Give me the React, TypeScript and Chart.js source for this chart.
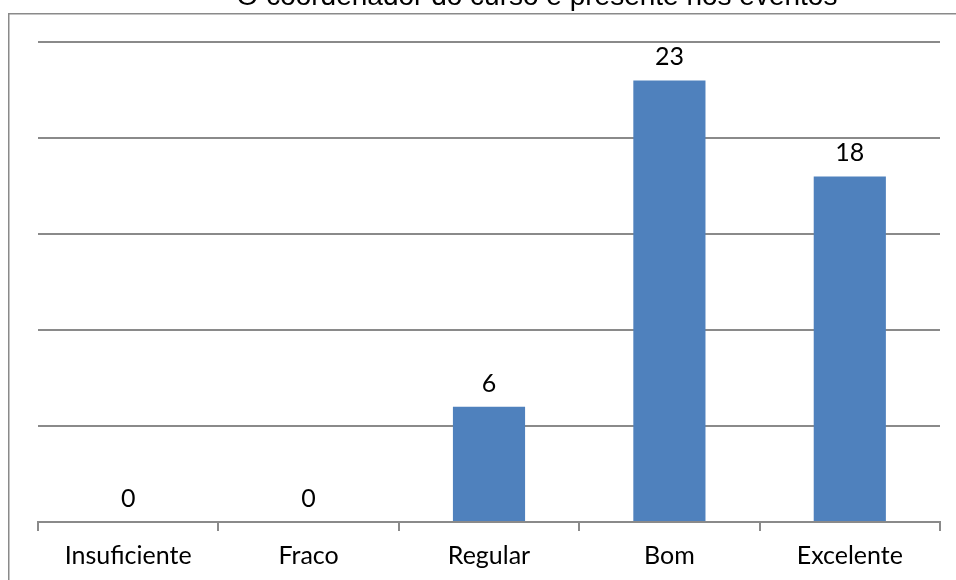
import React, { useEffect, useRef } from "react";
import { Chart, registerables } from "chart.js";

Chart.register(...registerables);

const TITLE = "O coordenador do curso é presente nos eventos";
const categories = ["Insuficiente", "Fraco", "Regular", "Bom", "Excelente"];
const values = [0, 0, 6, 23, 18];
const yMin = 0;
const yMax = 25;
const yStep = 5;

const GRID = "#8a8a8a";
const BAR = "#4F81BD";
const LABEL_FONT = "Lato, 'Open Sans', sans-serif";

const decorPlugin = {
  id: "decor",
  beforeDraw(chart: any) {
    const ctx = chart.ctx;
    ctx.save();
    ctx.fillStyle = "#ffffff";
    ctx.fillRect(0, 0, chart.width, chart.height);
    // outer frame
    ctx.strokeStyle = GRID;
    ctx.lineWidth = 1.5;
    ctx.beginPath();
    ctx.moveTo(8.75, chart.height + 5);
    ctx.lineTo(8.75, 13.75);
    ctx.lineTo(chart.width + 5, 13.75);
    ctx.stroke();
    // title (cut off at top)
    ctx.fillStyle = "#000000";
    ctx.font = "28px 'Liberation Sans', Arial, sans-serif";
    ctx.textAlign = "center";
    ctx.textBaseline = "alphabetic";
    ctx.fillText(TITLE, 537, 5);
    ctx.restore();
  },
  afterDatasetsDraw(chart: any) {
    const ctx = chart.ctx;
    const meta = chart.getDatasetMeta(0);
    ctx.save();
    ctx.fillStyle = "#000000";
    ctx.font = `25px ${LABEL_FONT}`;
    ctx.textAlign = "center";
    ctx.textBaseline = "middle";
    meta.data.forEach((bar: any, i: number) => {
      ctx.fillText(String(values[i]), bar.x, bar.y - 23);
    });
    ctx.restore();
  },
};

export default function App() {
  const ref = useRef<HTMLCanvasElement>(null);
  useEffect(() => {
    if (!ref.current) return;
    const chart = new Chart(ref.current, {
      type: "bar",
      data: {
        labels: categories,
        datasets: [
          {
            data: values,
            backgroundColor: BAR,
            borderWidth: 0,
            barPercentage: 0.4,
            categoryPercentage: 1,
          },
        ],
      },
      options: {
        responsive: false,
        animation: false,
        layout: { padding: { left: 38, right: 16, top: 42, bottom: 0 } },
        plugins: {
          legend: { display: false },
          title: { display: false },
          tooltip: { enabled: false },
        },
        scales: {
          x: {
            grid: {
              offset: true,
              drawOnChartArea: false,
              drawTicks: true,
              tickLength: 9,
              color: GRID,
              lineWidth: 2,
            },
            border: { display: true, color: GRID, width: 2 },
            ticks: {
              color: "#000000",
              font: { family: LABEL_FONT, size: 25 },
              padding: 10,
              maxRotation: 0,
              autoSkip: false,
            },
            afterFit: (scale: any) => {
              scale.height = 58;
            },
          },
          y: {
            min: yMin,
            max: yMax,
            ticks: { display: false, stepSize: yStep },
            grid: { color: GRID, lineWidth: 2, drawTicks: false },
            border: { display: false },
            afterFit: (scale: any) => {
              scale.width = 0;
            },
          },
        },
      },
      plugins: [decorPlugin],
    });
    return () => chart.destroy();
  }, []);
  return (
    <canvas
      ref={ref}
      width={956}
      height={580}
      style={{ position: "fixed", left: 0, top: 0, width: 956, height: 580, display: "block" }}
    />
  );
}
